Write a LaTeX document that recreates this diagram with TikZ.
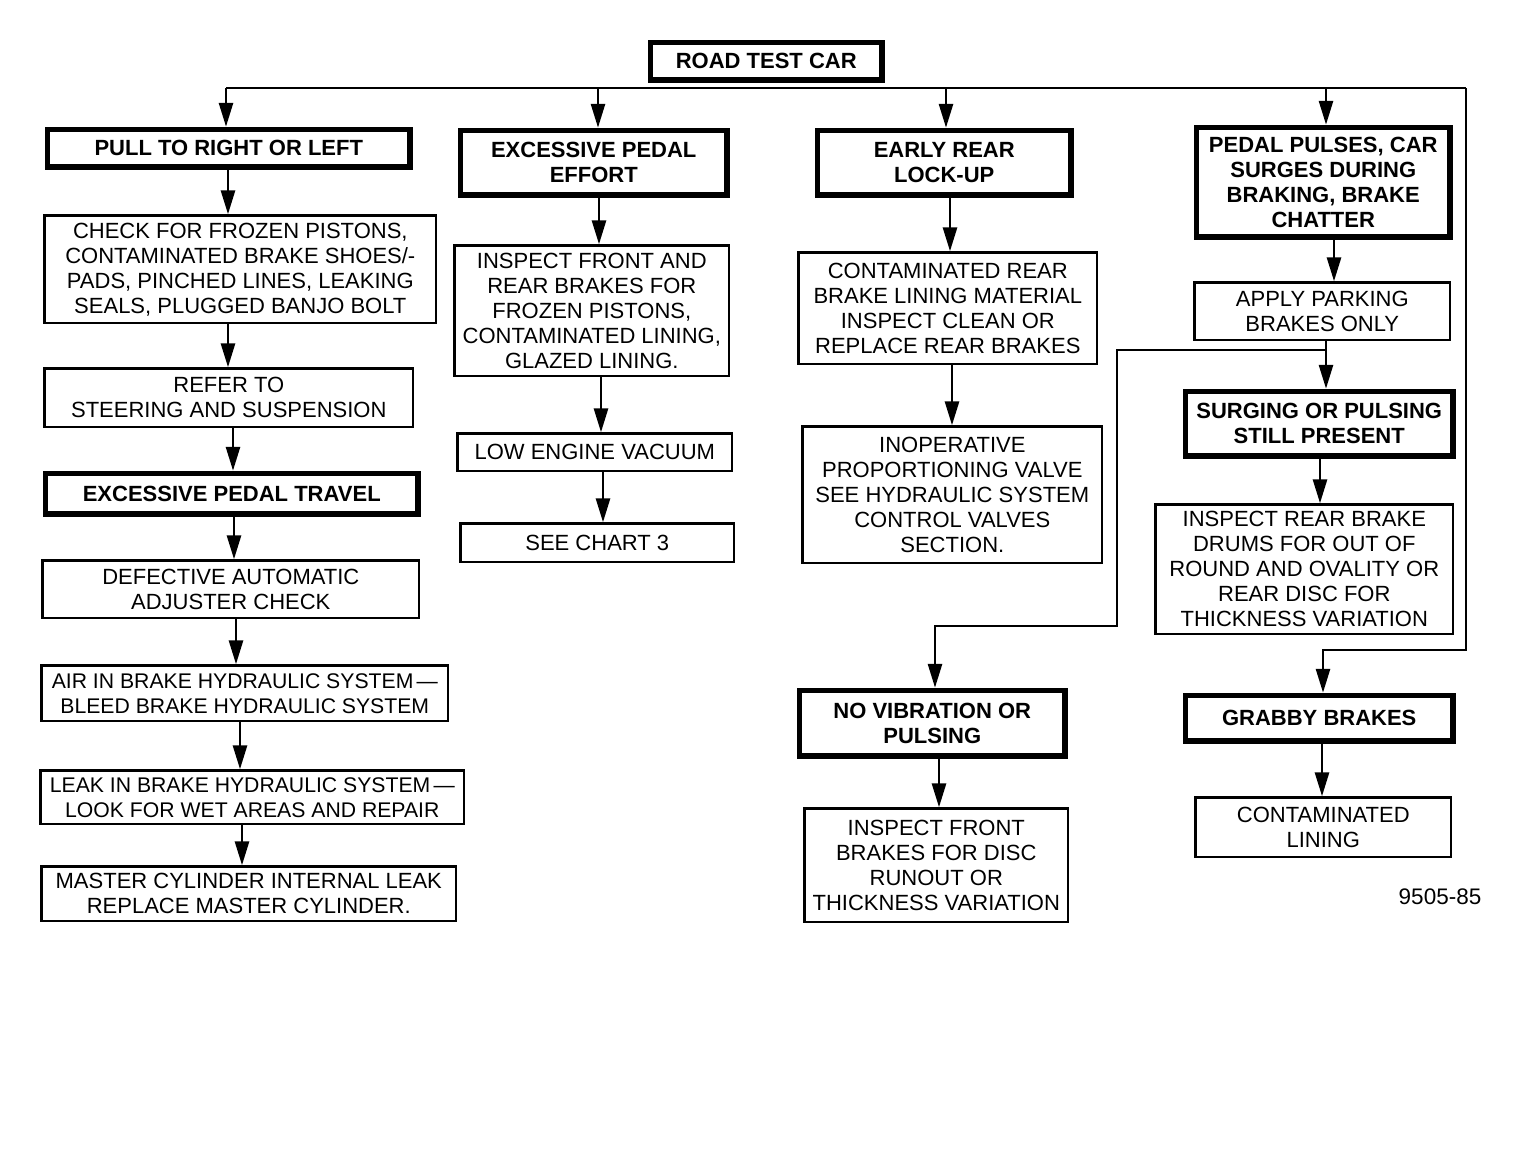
\documentclass[tikz,border=0pt]{standalone}
\usepackage{fontspec}
\setmainfont{Liberation Sans}
\usetikzlibrary{arrows.meta}
\tikzset{
  basebox/.style={draw, inner sep=0pt, align=center, anchor=north west,
    font=\fontsize{22}{25}\selectfont},
  plainbox/.style 2 args={basebox, line width=2.6pt,
    minimum width=#1pt-2.6pt, minimum height=#2pt-2.6pt, xshift=1.3pt, yshift=-1.3pt},
  boldbox/.style 2 args={basebox, line width=5.5pt, font=\fontsize{22}{25}\selectfont\bfseries,
    minimum width=#1pt-5.5pt, minimum height=#2pt-5.5pt, xshift=2.75pt, yshift=-2.75pt},
  wire/.style={line width=2.8pt},
  arr/.style={line width=2.8pt, -{Triangle[length=24pt,width=14pt]}},
  lab/.style={inner sep=0pt, font=\fontsize{22.5}{25}\selectfont}
}
\newcommand\vlink[3]{\draw[arr] (#1.south -| #3,0) -- (#2.north -| #3,0);}
\begin{document}
\begin{tikzpicture}[x=1pt,y=-1pt]
\useasboundingbox (0,0) rectangle (1520,1172);

% top
\node[boldbox={237}{43}] (road) at (645,37) {ROAD TEST CAR};

% column 1
\node[boldbox={368}{43}] (pull) at (42,124) {PULL TO RIGHT OR LEFT};
\node[plainbox={394}{110}] (check) at (42,213) {CHECK FOR FROZEN PISTONS,\\CONTAMINATED BRAKE SHOES/-\\PADS, PINCHED LINES, LEAKING\\SEALS, PLUGGED BANJO BOLT};
\node[plainbox={371}{61}] (refer) at (42,366) {REFER TO\\STEERING AND SUSPENSION};
\node[boldbox={378}{46}] (travel) at (40,468) {EXCESSIVE PEDAL TRAVEL};
\node[plainbox={379}{60}] (defect) at (40,558) {DEFECTIVE AUTOMATIC\\ADJUSTER CHECK};
\node[plainbox={409}{58}, font=\fontsize{21.2}{25}\selectfont] (air) at (39,663) {AIR IN BRAKE HYDRAULIC SYSTEM\hspace{0.15em}—\\BLEED BRAKE HYDRAULIC SYSTEM};
\node[plainbox={426}{56}, font=\fontsize{21.2}{25}\selectfont] (leak) at (38,768) {LEAK IN BRAKE HYDRAULIC SYSTEM\hspace{0.15em}—\\LOOK FOR WET AREAS AND REPAIR};
\node[plainbox={417}{57}] (master) at (39,864) {MASTER CYLINDER INTERNAL LEAK\\REPLACE MASTER CYLINDER.};

% column 2
\node[boldbox={272}{70}] (effort) at (455,125) {EXCESSIVE PEDAL\\EFFORT};
\node[plainbox={277}{133}] (inspect) at (452,243) {INSPECT FRONT AND\\REAR BRAKES FOR\\FROZEN PISTONS,\\CONTAMINATED LINING,\\GLAZED LINING.};
\node[plainbox={277}{40}] (vacuum) at (455,431) {LOW ENGINE VACUUM};
\node[plainbox={276}{41}] (chart) at (458,521) {SEE CHART 3};

% column 3
\node[boldbox={259}{70}] (early) at (812,125) {EARLY REAR\\LOCK-UP};
\node[plainbox={301}{114}] (contrear) at (796,250) {CONTAMINATED REAR\\BRAKE LINING MATERIAL\\INSPECT CLEAN OR\\REPLACE REAR BRAKES};
\node[plainbox={302}{139}] (inop) at (800,424) {INOPERATIVE\\PROPORTIONING VALVE\\SEE HYDRAULIC SYSTEM\\CONTROL VALVES\\SECTION.};
\node[boldbox={271}{71}] (novib) at (794,685) {NO VIBRATION OR\\PULSING};
\node[plainbox={266}{116}] (inspfront) at (802,806) {INSPECT FRONT\\BRAKES FOR DISC\\RUNOUT OR\\THICKNESS VARIATION};

% column 4
\node[boldbox={259}{115}] (pulses) at (1191,122) {PEDAL PULSES, CAR\\SURGES DURING\\BRAKING, BRAKE\\CHATTER};
\node[plainbox={258}{60}] (apply) at (1192,280) {APPLY PARKING\\BRAKES ONLY};
\node[boldbox={273}{70}] (surging) at (1180,386) {SURGING OR PULSING\\STILL PRESENT};
\node[plainbox={300}{132}] (insprear) at (1153,502) {INSPECT REAR BRAKE\\DRUMS FOR OUT OF\\ROUND AND OVALITY OR\\REAR DISC FOR\\THICKNESS VARIATION};
\node[boldbox={273}{51}] (grabby) at (1180,690) {GRABBY BRAKES};
\node[plainbox={258}{62}] (lining) at (1193,795) {CONTAMINATED\\LINING};

\node[lab] (code) at (1440,897) {9505-85};

% bus from road test
\coordinate (busL) at (226,88);
\coordinate (busR) at (1466,88);
\coordinate (b2) at (598,88);
\coordinate (b3) at (946,88);
\coordinate (b4) at (1326,88);
\coordinate (rc) at (1466,650);
\coordinate (gc) at (1323,650);
\draw[wire] (busL) -- (busR);
\draw[arr] (busL) -- (busL |- pull.north);
\draw[arr] (b2) -- (b2 |- effort.north);
\draw[arr] (b3) -- (b3 |- early.north);
\draw[arr] (b4) -- (b4 |- pulses.north);
\draw[arr] (busR) -- (rc) -- (gc) -- (gc |- grabby.north);

% column 1 links
\vlink{pull}{check}{228}
\vlink{check}{refer}{228}
\vlink{refer}{travel}{233}
\vlink{travel}{defect}{234}
\vlink{defect}{air}{236}
\vlink{air}{leak}{240}
\vlink{leak}{master}{242}

% column 2 links
\vlink{effort}{inspect}{599}
\vlink{inspect}{vacuum}{601}
\vlink{vacuum}{chart}{603}

% column 3 links
\vlink{early}{contrear}{950}
\vlink{contrear}{inop}{952}
\vlink{novib}{inspfront}{939}

% column 4 links
\vlink{pulses}{apply}{1334}
\vlink{surging}{insprear}{1320}
\vlink{grabby}{lining}{1322}

% loop from parking brakes
\coordinate (lp) at (1326,350);
\coordinate (l1) at (1117,350);
\coordinate (l2) at (1117,626);
\coordinate (l3) at (935,626);
\draw[arr] (apply.south -| lp) -- (lp |- surging.north);
\draw[arr] (lp) -- (l1) -- (l2) -- (l3) -- (l3 |- novib.north);
\end{tikzpicture}
\end{document}
